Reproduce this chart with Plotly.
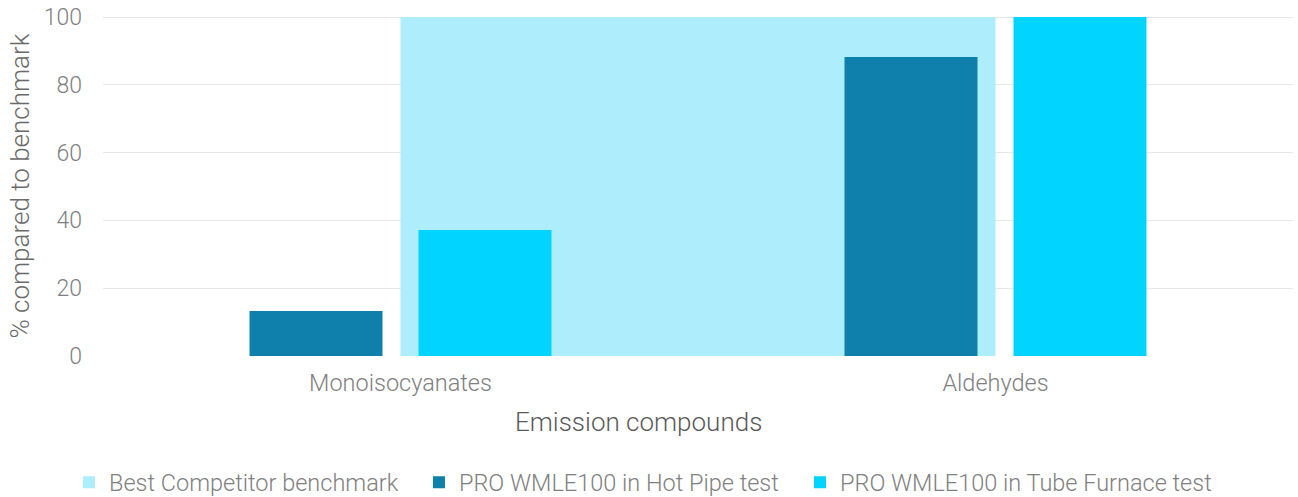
import plotly.graph_objects as go

categories = ["Monoisocyanates", "Aldehydes"]
benchmark = [100, 100]
hot_pipe = [13.3, 88.2]
tube_furnace = [37.2, 100]
y_ticks = [0, 20, 40, 60, 80, 100]

FONT = "Roboto"
TXT = "#808080"
C_BENCH = "#AEEEFC"
C_HOT = "#0E80AB"
C_TUBE = "#00D4FF"

fig = go.Figure()
# area (drawn on base axes, underneath the bars)
fig.add_trace(go.Scatter(
    x=categories, y=benchmark, name="Best Competitor benchmark",
    mode="lines", fill="tozeroy", fillcolor=C_BENCH,
    line=dict(width=0, color=C_BENCH), showlegend=False,
    xaxis="x", yaxis="y",
))
# legend proxy for the area series (square swatch)
fig.add_trace(go.Scatter(
    x=[None], y=[None], name="Best Competitor benchmark", mode="markers",
    marker=dict(symbol="square", size=12, color=C_BENCH),
    xaxis="x", yaxis="y", legend="legend",
))
# bars on overlaid axes so they sit above the area
fig.add_trace(go.Bar(
    x=categories, y=hot_pipe, name="PRO WMLE100 in Hot Pipe test",
    marker=dict(color=C_HOT, line=dict(width=0)),
    xaxis="x2", yaxis="y2", legend="legend2",
))
fig.add_trace(go.Bar(
    x=categories, y=tube_furnace, name="PRO WMLE100 in Tube Furnace test",
    marker=dict(color=C_TUBE, line=dict(width=0)),
    xaxis="x2", yaxis="y2", legend="legend3",
))

leg_font = dict(size=23.5, color=TXT, family=FONT, weight=300)
leg_common = dict(orientation="h", xanchor="left", y=-0.3717, yanchor="middle",
                  font=leg_font, itemwidth=30, bgcolor="rgba(0,0,0,0)")

Y_RANGE = [0, 100.3]

fig.update_layout(
    width=1298, height=497,
    margin=dict(l=103, r=5, t=16, b=141, autoexpand=False),
    paper_bgcolor="white", plot_bgcolor="white",
    barmode="group", bargap=0.432, bargroupgap=0.213,
    font=dict(family=FONT, color=TXT, size=23, weight=300),
    showlegend=True,
    legend=dict(x=-0.0286, **leg_common),
    legend2=dict(x=0.2655, **leg_common),
    legend3=dict(x=0.5857, **leg_common),
    xaxis=dict(
        type="category", categoryorder="array", categoryarray=categories,
        range=[-0.5, 1.5], showgrid=False, zeroline=False, showline=False,
        tickfont=dict(size=23.5, color=TXT, weight=300), ticklabelstandoff=10,
    ),
    xaxis2=dict(
        type="category", categoryorder="array", categoryarray=categories,
        range=[-0.5, 1.5], overlaying="x", showgrid=False, zeroline=False,
        showline=False, showticklabels=False,
    ),
    yaxis=dict(
        range=Y_RANGE, tickvals=y_ticks, showgrid=True, gridcolor="#e8e8e8",
        gridwidth=1, zeroline=False, showline=False,
        tickfont=dict(size=23, color=TXT, weight=300), ticklabelstandoff=20,
        title=dict(text="% compared to benchmark", font=dict(size=26, color="#6a6a6a", weight=300), standoff=6),
    ),
    yaxis2=dict(
        range=Y_RANGE, overlaying="y", showgrid=False, zeroline=False,
        showline=False, showticklabels=False,
    ),
    annotations=[dict(
        text="Emission compounds", xref="paper", yref="paper",
        x=0.4504, y=-0.1947, xanchor="center", yanchor="middle", showarrow=False,
        font=dict(size=26, color="#5a5a5a", family=FONT, weight=300),
    )],
)

fig.write_html("out.html", config={"displayModeBar": False},
               post_script="document.body.style.margin='0px';")
